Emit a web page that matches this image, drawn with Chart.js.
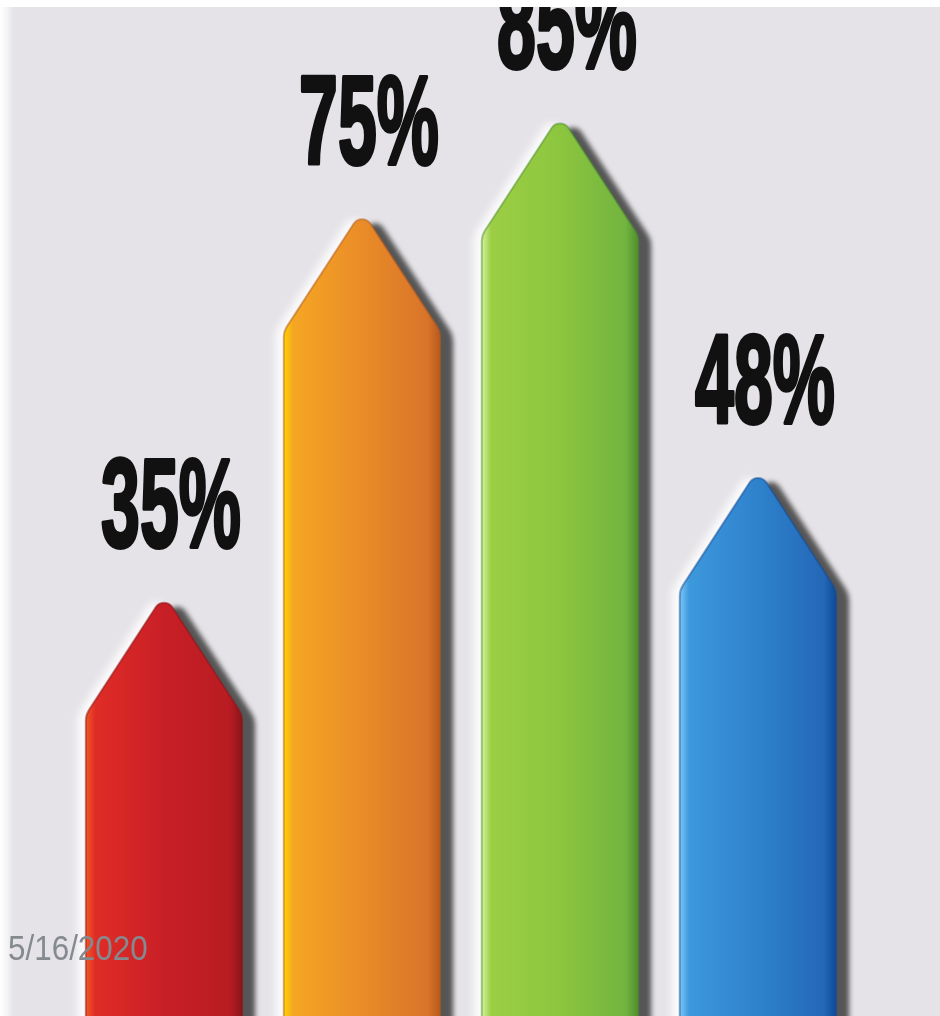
<!DOCTYPE html>
<html>
<head>
<meta charset="utf-8">
<script src="https://cdn.jsdelivr.net/npm/chart.js@4.4.1/dist/chart.umd.min.js"></script>
<style>
  html, body { margin: 0; padding: 0; background: #e5e3e7; overflow: hidden; }
  #wrap { position: absolute; left: 0; top: 0; width: 940px; height: 1016px; }
  #date {
    position: absolute; left: 8px; top: 928px;
    font-family: 'Liberation Sans Narrow', 'Liberation Sans', sans-serif;
    font-size: 35px; color: #848a8f; white-space: nowrap;
    transform-origin: left top;
  }
</style>
</head>
<body>
<div id="wrap"><canvas id="myChart"></canvas></div>
<div id="date">5/16/2020</div>
<script>
// data
const categories = ['Bar 1', 'Bar 2', 'Bar 3', 'Bar 4'];
const values = [35, 75, 85, 48];
const valueLabels = ['35%', '75%', '85%', '48%'];

// colours, left edge -> right edge
const gradients = [
  ['#f05a24', '#e02c26', '#c81f26', '#b81c22', '#8a1418'],
  ['#ffd200', '#f5a623', '#ea8c28', '#d8742a', '#b85a1c'],
  ['#d4f0a0', '#9cce44', '#8cc63f', '#72b440', '#4e8f2c'],
  ['#7cc8f8', '#3d98dc', '#2e82cc', '#2468b8', '#0f4a98']
];

// squeeze the date to its width in the picture
let dateEl = document.getElementById('date');
dateEl.style.transform = 'scaleX(' + (140 / dateEl.offsetWidth) + ')';

function arrowPath(ctx, x, w, tip, base) {
  let L = x - w / 2, R = x + w / 2;
  let sh = tip + w * 0.77;
  ctx.beginPath();
  ctx.moveTo(L, base);
  ctx.arcTo(L, sh, x, tip, 20);
  ctx.arcTo(x, tip, R, sh, 10);
  ctx.arcTo(R, sh, R, base, 20);
  ctx.lineTo(R, base);
  ctx.closePath();
}

const backdrop = {
  id: 'backdrop',
  beforeDraw(chart) {
    const ctx = chart.ctx;
    ctx.save();
    ctx.fillStyle = '#e5e3e7';
    ctx.fillRect(0, 0, chart.width, chart.height);
    let g = ctx.createLinearGradient(0, 0, 16, 0);
    g.addColorStop(0, '#ffffff');
    g.addColorStop(0.5, '#f2f2f2');
    g.addColorStop(1, 'rgba(229,227,231,0)');
    ctx.fillStyle = g;
    ctx.fillRect(0, 0, 16, chart.height);
    ctx.restore();
  },
  afterDraw(chart) {
    const ctx = chart.ctx;
    ctx.save();
    ctx.fillStyle = '#ffffff';
    ctx.fillRect(0, 0, chart.width, 7);
    ctx.restore();
  }
};

const arrows = {
  id: 'arrows',
  afterDatasetsDraw(chart) {
    const ctx = chart.ctx;
    const meta = chart.getDatasetMeta(0);
    meta.data.forEach((bar, i) => {
      let x = bar.x, w = bar.width, tip = bar.y, base = bar.base + 20;
      ctx.save();

      // white glow on the left
      arrowPath(ctx, x, w, tip, base);
      ctx.shadowColor = 'rgba(255,255,255,0.9)';
      ctx.shadowBlur = 8;
      ctx.shadowOffsetX = -8;
      ctx.fillStyle = '#dddddd';
      ctx.fill();

      // grey shadow on the right
      ctx.shadowColor = 'rgba(70,70,70,0.9)';
      ctx.shadowBlur = 5;
      ctx.shadowOffsetX = 13;
      ctx.shadowOffsetY = 4;
      let g = ctx.createLinearGradient(x - w / 2, 0, x + w / 2, 0);
      let c = gradients[i];
      g.addColorStop(0, c[0]);
      g.addColorStop(0.06, c[1]);
      g.addColorStop(0.5, c[2]);
      g.addColorStop(0.92, c[3]);
      g.addColorStop(1, c[4]);
      ctx.fillStyle = g;
      ctx.fill();

      ctx.shadowColor = 'transparent';
      ctx.lineWidth = 2;
      ctx.strokeStyle = c[4];
      ctx.globalAlpha = 0.5;
      ctx.stroke();
      ctx.restore();

      // value label
      ctx.save();
      ctx.font = "bold 126px 'Liberation Sans Narrow', 'Liberation Sans', sans-serif";
      let tw = ctx.measureText(valueLabels[i]).width;
      let sx = 140 / tw;
      ctx.translate(x + 7, tip - 47);
      ctx.scale(sx, 1);
      ctx.textAlign = 'center';
      ctx.textBaseline = 'alphabetic';
      ctx.fillStyle = '#111111';
      ctx.strokeStyle = '#111111';
      ctx.lineWidth = 4;
      ctx.lineJoin = 'round';
      ctx.strokeText(valueLabels[i], 0, 0);
      ctx.fillText(valueLabels[i], 0, 0);
      ctx.restore();
    });
  }
};

new Chart(document.getElementById('myChart'), {
  type: 'bar',
  data: {
    labels: categories,
    datasets: [{
      data: values,
      base: -9,
      backgroundColor: 'rgba(0,0,0,0)',
      borderWidth: 0,
      categoryPercentage: 1,
      barPercentage: 0.79
    }]
  },
  options: {
    responsive: true,
    maintainAspectRatio: false,
    animation: false,
    layout: { padding: { left: 65, right: 83, top: 0, bottom: 0 } },
    scales: {
      x: { display: false },
      y: { display: false, min: -9, max: 97 }
    },
    plugins: {
      legend: { display: false },
      tooltip: { enabled: false }
    }
  },
  plugins: [backdrop, arrows]
});
</script>
</body>
</html>
